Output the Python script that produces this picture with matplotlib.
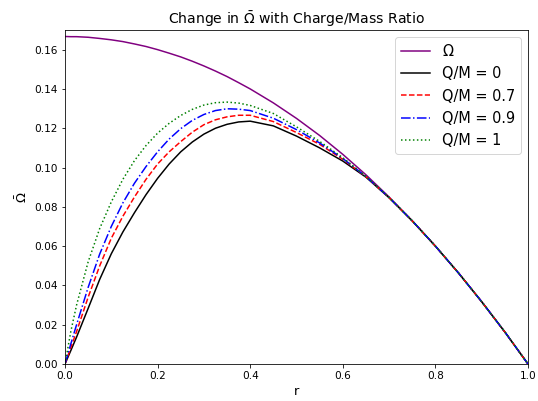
import matplotlib
matplotlib.use("Agg")
import matplotlib.pyplot as plt

# values
r = [0.0, 0.0125, 0.025, 0.05, 0.075, 0.1, 0.125, 0.15, 0.175, 0.2, 0.225, 0.25,
     0.275, 0.3, 0.325, 0.35, 0.375, 0.4, 0.45, 0.5, 0.55, 0.6, 0.65, 0.7, 0.75,
     0.8, 0.85, 0.9, 0.95, 1.0]

omega = [0.1667, 0.1666, 0.1666, 0.1663, 0.1657, 0.1650, 0.1641, 0.1629, 0.1616,
         0.1600, 0.1582, 0.1563, 0.1541, 0.1517, 0.1491, 0.1463, 0.1432, 0.1400,
         0.1329, 0.1250, 0.1163, 0.1067, 0.0963, 0.0850, 0.0729, 0.0600, 0.0463,
         0.0317, 0.0163, 0.0]

qm_0 = [0.0, 0.0068, 0.0137, 0.0283, 0.0431, 0.0561, 0.0672, 0.0770, 0.0862,
        0.0945, 0.1018, 0.1080, 0.1130, 0.1170, 0.1200, 0.1220, 0.1232, 0.1236,
        0.1212, 0.1160, 0.1100, 0.1033, 0.0951, 0.0846, 0.0728, 0.0600, 0.0463,
        0.0317, 0.0163, 0.0]

qm_07 = [0.0, 0.0083, 0.0165, 0.0340, 0.0500, 0.0640, 0.0752, 0.0850, 0.0940,
         0.1018, 0.1080, 0.1132, 0.1180, 0.1218, 0.1243, 0.1258, 0.1266, 0.1266,
         0.1234, 0.1178, 0.1118, 0.1042, 0.0953, 0.0847, 0.0728, 0.0600, 0.0463,
         0.0317, 0.0163, 0.0]

qm_09 = [0.0, 0.0102, 0.0200, 0.0390, 0.0560, 0.0700, 0.0820, 0.0920, 0.1005,
         0.1080, 0.1145, 0.1198, 0.1240, 0.1270, 0.1290, 0.1299, 0.1297, 0.1290,
         0.1251, 0.1193, 0.1125, 0.1046, 0.0954, 0.0847, 0.0729, 0.0600, 0.0463,
         0.0317, 0.0163, 0.0]

qm_1 = [0.0, 0.0165, 0.0300, 0.0520, 0.0690, 0.0825, 0.0940, 0.1035, 0.1112,
        0.1175, 0.1225, 0.1265, 0.1296, 0.1318, 0.1330, 0.1333, 0.1328, 0.1316,
        0.1275, 0.1207, 0.1133, 0.1050, 0.0955, 0.0848, 0.0729, 0.0600, 0.0463,
        0.0317, 0.0163, 0.0]

fig = plt.figure(figsize=(538 / 72, 401 / 72), dpi=72)
ax = fig.add_axes([65 / 538, 1 - 364 / 401, 463 / 538, 334 / 401])

ax.plot(r, omega, color="purple", label=r"$\Omega$")
ax.plot(r, qm_0, color="black", label="Q/M = 0")
ax.plot(r, qm_07, color="red", linestyle="--", label="Q/M = 0.7")
ax.plot(r, qm_09, color="blue", linestyle="-.", label="Q/M = 0.9")
ax.plot(r, qm_1, color="green", linestyle=":", label="Q/M = 1")

ax.set_xlim(0, 1)
ax.set_ylim(0, 0.17)
ax.set_xticks([0.0, 0.2, 0.4, 0.6, 0.8, 1.0])
ax.set_yticks([0.0, 0.02, 0.04, 0.06, 0.08, 0.10, 0.12, 0.14, 0.16])
ax.set_yticklabels(["0.00", "0.02", "0.04", "0.06", "0.08", "0.10", "0.12", "0.14", "0.16"])
ax.tick_params(labelsize=10.5)

ax.set_title(r"Change in $\bar{\Omega}$ with Charge/Mass Ratio", fontsize=14)
ax.set_xlabel("r", fontsize=13)
ax.set_ylabel(r"$\bar{\Omega}$", fontsize=13)
ax.legend(loc="upper right", fontsize=14.5)

fig.savefig("out.png", dpi=72)
